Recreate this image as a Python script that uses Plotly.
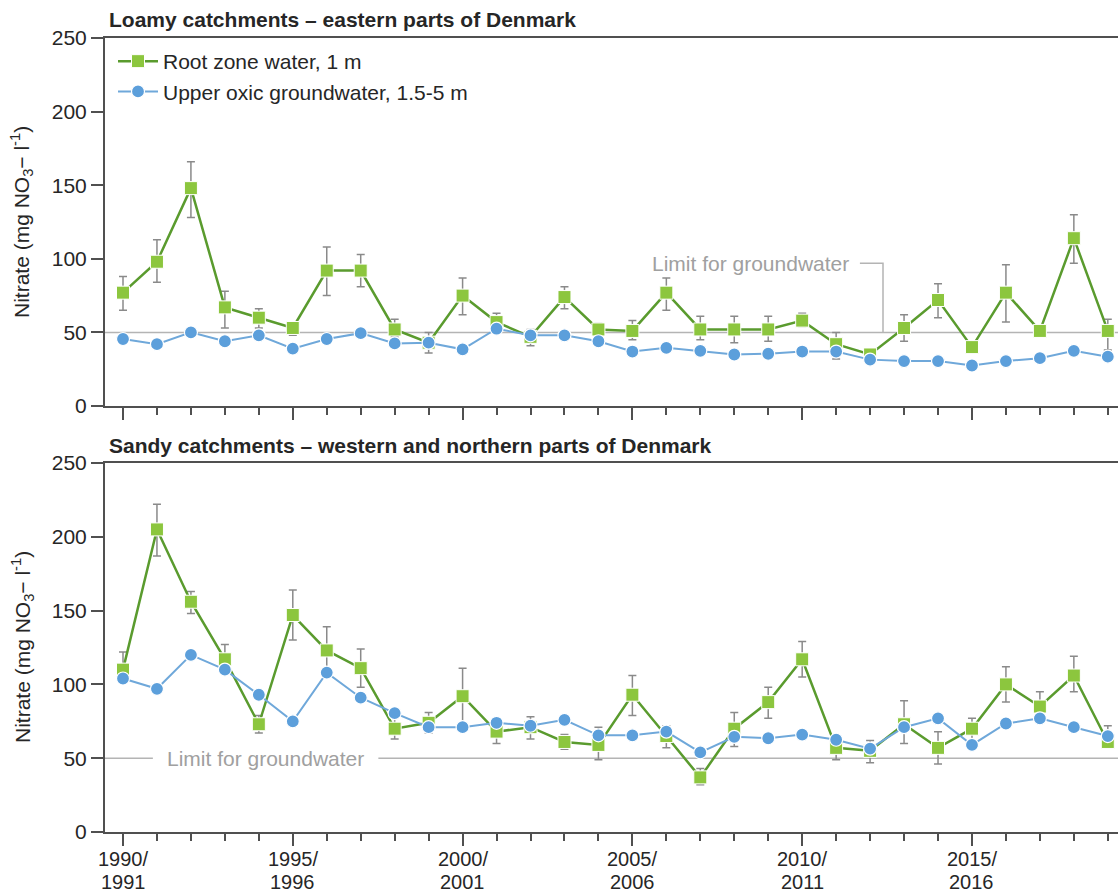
import plotly.graph_objects as go

# Monitoring years (hydrological years 1990/1991 ... 2019/2020)
years = list(range(1990, 2020))
tick_years = [1990, 1995, 2000, 2005, 2010, 2015]
tick_first = ["1990/", "1995/", "2000/", "2005/", "2010/", "2015/"]
tick_second = ["1991", "1996", "2001", "2006", "2011", "2016"]

# Loamy catchments (eastern Denmark), mg NO3/l
loamy_root = [77, 98, 148, 67, 60, 53, 92, 92, 52, 43, 75, 57, 47, 74, 52, 51, 77, 52, 52, 52,
              58, 42, 35, 53, 72, 40, 77, 51, 114, 51]
loamy_root_hi = [88, 113, 166, 78, 66, 57, 108, 103, 59, 50, 87, 63, 52, 81, 56, 58, 87, 61, 61, 61,
                 63, 50, 38, 62, 83, 40, 96, 53, 130, 59]
loamy_root_lo = [65, 84, 128, 53, 53, 48, 75, 81, 47, 36, 62, 52, 41, 66, 50, 45, 65, 45, 43, 44,
                 54, 32, 32, 44, 60, 40, 57, 49, 97, 38]
loamy_gw = [45.5, 42, 50, 44, 48, 39, 45.5, 49.5, 42.5, 43, 38.5, 52.5, 48, 48, 44, 37, 39.5, 37.5, 35, 35.5,
            37, 37, 31.5, 30.5, 30.5, 27.5, 30.5, 32.5, 37.5, 33.5]

# Sandy catchments (western and northern Denmark), mg NO3/l
sandy_root = [110, 205, 156, 117, 73, 147, 123, 111, 70, 74, 92, 68, 71, 61, 59, 93, 65, 37, 70, 88,
              117, 57, 55, 73, 57, 70, 100, 85, 106, 61]
sandy_root_hi = [122, 222, 163, 127, 79, 164, 139, 124, 77, 81, 111, 74, 78, 66, 71, 106, 72, 43, 81, 98,
                 129, 62, 62, 89, 68, 77, 112, 95, 119, 72]
sandy_root_lo = [104, 187, 148, 108, 67, 130, 108, 98, 63, 67, 74, 60, 63, 56, 49, 79, 57, 32, 58, 77,
                 105, 49, 47, 60, 46, 62, 88, 76, 95, 57]
sandy_gw = [104, 97, 120, 110, 93, 75, 108, 91, 80.5, 71, 71, 74, 72, 76, 65.5, 65.5, 68, 54, 64.5, 63.5,
            66, 62.5, 56.5, 71, 77, 59, 73.5, 77, 71, 65]

limit_value = 50

FONT = "Liberation Sans, Arial, sans-serif"
TXT = "#262626"
GREEN_LINE = "#5a9b2e"
GREEN_MARK = "#8cc63e"
BLUE_LINE = "#6fa8da"
BLUE_MARK = "#5c9fdb"
ERR = "#8a8a8a"
AXIS = "#505050"
LIMIT = "#b4b4b4"

W, H = 1118, 895
LEFT = 105


def py(p):
    return (H - p) / H


fig = go.Figure()


def add_panel(root, hi, lo, gw, xa, ya, show_legend):
    fig.add_trace(go.Scatter(
        x=years, y=root, xaxis=xa, yaxis=ya, mode="lines+markers",
        name="Root zone water, 1 m", showlegend=show_legend,
        line=dict(color=GREEN_LINE, width=2.5),
        marker=dict(symbol="square", size=13, color=GREEN_MARK, line=dict(color="white", width=1)),
        error_y=dict(type="data", symmetric=False,
                     array=[h - v for h, v in zip(hi, root)],
                     arrayminus=[v - l for v, l in zip(root, lo)],
                     color=ERR, thickness=1.5, width=4),
    ))
    fig.add_trace(go.Scatter(
        x=years, y=gw, xaxis=xa, yaxis=ya, mode="lines+markers",
        name="Upper oxic groundwater, 1.5-5 m", showlegend=show_legend,
        line=dict(color=BLUE_LINE, width=2),
        marker=dict(symbol="circle", size=13, color=BLUE_MARK, line=dict(color="white", width=1.2)),
    ))


add_panel(loamy_root, loamy_root_hi, loamy_root_lo, loamy_gw, "x", "y", True)
add_panel(sandy_root, sandy_root_hi, sandy_root_lo, sandy_gw, "x2", "y2", False)

xrange = [1989.47, 2019.3]
xcommon = dict(
    range=xrange, showgrid=False, zeroline=False, showline=True, linecolor=AXIS, linewidth=2,
    mirror=True, ticks="outside", ticklen=12, tickwidth=1.5, tickcolor=AXIS,
    tickvals=tick_years, fixedrange=True, showticklabels=False,
    minor=dict(dtick=1, tick0=1990, ticks="outside", ticklen=7, tickwidth=1.5, tickcolor=AXIS),
)
ycommon = dict(
    range=[0, 250], tickvals=[0, 50, 100, 150, 200, 250], showgrid=False, zeroline=False,
    showline=True, linecolor=AXIS, linewidth=2, ticks="outside", ticklen=12, tickwidth=1.5,
    tickcolor=AXIS, tickfont=dict(family=FONT, size=21, color=TXT), fixedrange=True,
)

fig.update_layout(
    width=W, height=H,
    margin=dict(l=LEFT, r=0, t=0, b=0, autoexpand=False),
    paper_bgcolor="white", plot_bgcolor="white",
    font=dict(family=FONT, size=21, color=TXT),
    xaxis=dict(**xcommon, anchor="y"),
    yaxis=dict(**ycommon, anchor="x", domain=[py(406), py(38)]),
    xaxis2=dict(**xcommon, anchor="y2"),
    yaxis2=dict(**ycommon, anchor="x2", domain=[py(832), py(463)]),
    legend=dict(x=8 / (W - LEFT), y=py(41), xanchor="left", yanchor="top", bgcolor="rgba(0,0,0,0)",
                font=dict(family=FONT, size=21, color=TXT), tracegroupgap=0, itemwidth=40),
    showlegend=True,
)

# Hydrological-year labels on two lines under the major ticks
for yr, first, second in zip(tick_years, tick_first, tick_second):
    fig.add_annotation(x=yr, y=py(859), xref="x2", yref="paper", text=first, showarrow=False,
                       xanchor="center", yanchor="middle", borderpad=0,
                       font=dict(family=FONT, size=20, color=TXT))
    fig.add_annotation(x=yr, y=py(882), xref="x2", yref="paper", text=second, showarrow=False,
                       xanchor="center", yanchor="middle", borderpad=0,
                       font=dict(family=FONT, size=20, color=TXT))

# Groundwater limit lines
fig.add_shape(type="line", xref="x", yref="y", x0=xrange[0], x1=xrange[1], y0=limit_value, y1=limit_value,
              line=dict(color=LIMIT, width=1.5), layer="below")
fig.add_shape(type="line", xref="x2", yref="y2", x0=xrange[0], x1=1990.88, y0=limit_value, y1=limit_value,
              line=dict(color=LIMIT, width=1.5), layer="below")
fig.add_shape(type="line", xref="x2", yref="y2", x0=1997.52, x1=xrange[1], y0=limit_value, y1=limit_value,
              line=dict(color=LIMIT, width=1.5), layer="below")
# Leader line for the upper label
fig.add_shape(type="path", xref="x", yref="y",
              path=f"M 2011.70 97 L 2012.38 97 L 2012.38 {limit_value}",
              line=dict(color=LIMIT, width=1.5))

fig.add_annotation(x=2011.45, y=97, xref="x", yref="y", text="Limit for groundwater", showarrow=False,
                   xanchor="right", yanchor="middle", font=dict(family=FONT, size=21, color="#a0a0a0"))
fig.add_annotation(x=1994.2, y=limit_value, xref="x2", yref="y2", text="Limit for groundwater",
                   showarrow=False, xanchor="center", yanchor="middle",
                   font=dict(family=FONT, size=21, color="#a0a0a0"))

# Panel titles
fig.add_annotation(x=2 / (W - LEFT), y=py(20), xref="paper", yref="paper",
                   text="<b>Loamy catchments – eastern parts of Denmark</b>", showarrow=False,
                   xanchor="left", yanchor="middle", font=dict(family=FONT, size=21, color=TXT))
fig.add_annotation(x=2 / (W - LEFT), y=py(445), xref="paper", yref="paper",
                   text="<b>Sandy catchments – western and northern parts of Denmark</b>", showarrow=False,
                   xanchor="left", yanchor="middle", font=dict(family=FONT, size=21, color=TXT))

# Y axis titles
ytitle = "Nitrate (mg NO<sub>3</sub>− l<sup>-1</sup>)"
for ycen in (222, 647):
    fig.add_annotation(x=(22 - LEFT) / (W - LEFT), y=py(ycen), xref="paper", yref="paper",
                       text=ytitle, textangle=-90, showarrow=False, xanchor="center", yanchor="middle",
                       font=dict(family=FONT, size=21, color=TXT))

fig.write_html("out.html")
